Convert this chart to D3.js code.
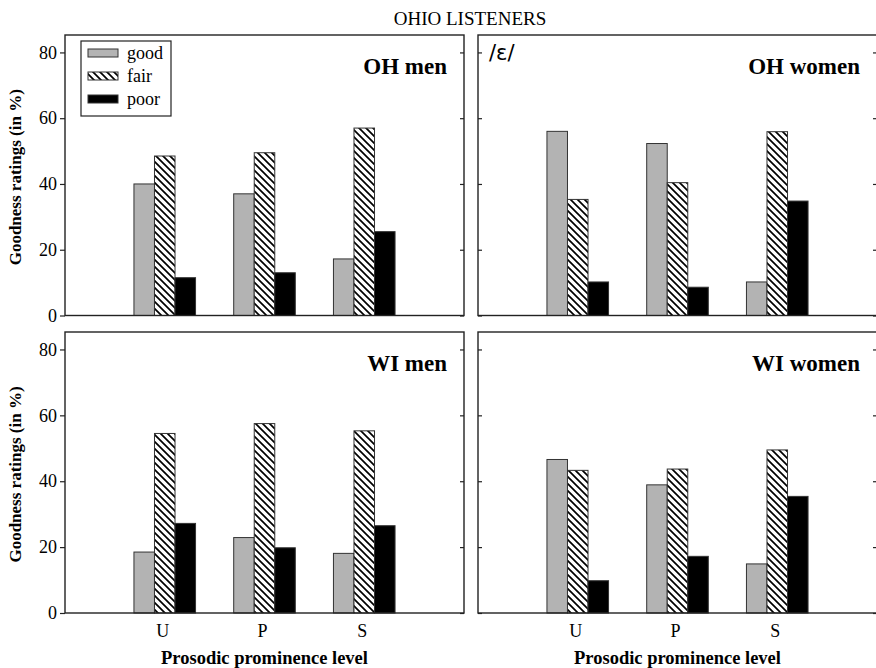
<!DOCTYPE html>
<html>
<head>
<meta charset="utf-8">
<script src="https://cdn.jsdelivr.net/npm/d3@7"></script>
<style>
  body { margin: 0; background: #fff; }
  svg text { font-family: "Liberation Serif", serif !important; }
  svg text.ipa { font-family: "DejaVu Sans", sans-serif !important; }
</style>
</head>
<body>
<div id="chart"></div>
<script>
// Goodness ratings by prosodic prominence level, Ohio listeners

var categories = ["U", "P", "S"];
var series = ["good", "fair", "poor"];
var yTicks = [0, 20, 40, 60, 80];

// values per category: [good, fair, poor]
var ohMen   = [[40, 48.5, 11.5], [37, 49.5, 13], [17.2, 57, 25.5]];
var ohWomen = [[56, 35.3, 10.2], [52.3, 40.4, 8.6], [10.2, 55.9, 34.8]];
var wiMen   = [[18.5, 54.5, 27.2], [22.9, 57.5, 19.8], [18.1, 55.3, 26.5]];
var wiWomen = [[46.6, 43.3, 9.8], [38.9, 43.7, 17.2], [14.9, 49.5, 35.4]];

var panelNames = ["OH men", "OH women", "WI men", "WI women"];
var panelValues = [ohMen, ohWomen, wiMen, wiWomen];

var width = 876;
var height = 668;

var colLeft = [65, 478];
var colWidth = 399;
var rowTop = [35, 332];
var rowBottom = [315.5, 613];

var svg = d3.select("#chart")
            .append("svg")
            .attr("width", width)
            .attr("height", height)
            .attr("font-family", "Liberation Serif");

// hatch pattern for "fair"
var defs = svg.append("defs");
var pat = defs.append("pattern")
              .attr("id", "hatch")
              .attr("patternUnits", "userSpaceOnUse")
              .attr("width", 7)
              .attr("height", 7);
pat.append("rect").attr("width", 7).attr("height", 7).attr("fill", "#fff");
pat.append("path")
   .attr("d", "M-1,-1 L8,8 M-4,3 L4,11 M3,-4 L11,4")
   .attr("stroke", "#000")
   .attr("stroke-width", 1.7);

var fills = { good: "#b3b3b3", fair: "url(#hatch)", poor: "#000" };

// title
svg.append("text")
   .attr("x", 470)
   .attr("y", 25)
   .attr("text-anchor", "middle")
   .style("font-size", "19px")
   .text("OHIO LISTENERS");

panelValues.forEach(function(vals, p) {
    var col = p % 2;
    var row = Math.floor(p / 2);
    var x0 = colLeft[col];
    var x1 = x0 + colWidth;
    var yTop = rowTop[row];
    var yBot = rowBottom[row];

    var x = d3.scaleLinear().domain([0, 4]).range([x0, x1]);
    var xs = d3.scaleBand().domain(series).range([-30.8, 30.8]);
    var y = d3.scaleLinear().domain([0, 85.3]).range([yBot, yTop]);

    var g = svg.append("g");

    // bars
    vals.forEach(function(v, i) {
        g.selectAll(null)
         .data(series)
         .enter()
         .append("rect")
         .attr("x", function(s) { return x(i + 1) + xs(s); })
         .attr("width", xs.bandwidth())
         .attr("y", function(s, j) { return y(v[j]); })
         .attr("height", function(s, j) { return y(0) - y(v[j]); })
         .attr("fill", function(s) { return fills[s]; })
         .attr("stroke", "#333")
         .attr("stroke-width", 1);
    });

    // frame
    g.append("rect")
     .attr("x", x0)
     .attr("y", yTop)
     .attr("width", colWidth)
     .attr("height", yBot - yTop)
     .attr("fill", "none")
     .attr("stroke", "#222")
     .attr("stroke-width", 1.4);

    // y ticks
    if (col === 0) {
        var axL = g.append("g")
                   .attr("transform", "translate(" + x0 + ",0)")
                   .call(d3.axisLeft(y).tickValues(yTicks).tickSize(5).tickPadding(3));
        axL.attr("font-family", "Liberation Serif");
        axL.selectAll("text").style("font-size", "18px").attr("fill", "#000");
    } else {
        g.append("g")
         .attr("transform", "translate(" + x0 + ",0)")
         .call(d3.axisRight(y).tickValues(yTicks).tickSize(4).tickFormat(""));
    }
    g.append("g")
     .attr("transform", "translate(" + x1 + ",0)")
     .call(d3.axisLeft(y).tickValues(yTicks).tickSize(4).tickFormat(""));
    g.selectAll(".domain").remove();
    g.selectAll(".tick line").attr("stroke", "#222").attr("stroke-width", 1.2);

    // panel label
    g.append("text")
     .attr("x", x1 - 17)
     .attr("y", yTop + 39)
     .attr("text-anchor", "end")
     .style("font-size", "23px")
     .style("font-weight", "bold")
     .text(panelNames[p]);

    // y label
    if (col === 0) {
        g.append("text")
         .attr("transform", "translate(21," + ((yTop + yBot) / 2 + 2) + ") rotate(-90)")
         .attr("text-anchor", "middle")
         .style("font-size", "17px")
         .style("font-weight", "bold")
         .text("Goodness ratings (in %)");
    }

    // x labels
    if (row === 1) {
        g.selectAll(null)
         .data(categories)
         .enter()
         .append("text")
         .attr("x", function(d, i) { return x(i + 1) - 2; })
         .attr("y", 637)
         .attr("text-anchor", "middle")
         .style("font-size", "18px")
         .text(function(d) { return d; });

        g.append("text")
         .attr("x", x(2))
         .attr("y", 664)
         .attr("text-anchor", "middle")
         .style("font-size", "18.5px")
         .style("font-weight", "bold")
         .text("Prosodic prominence level");
    }
});

// vowel label
svg.append("text")
   .attr("class", "ipa")
   .attr("x", 489)
   .attr("y", 60)
   .style("font-size", "21px")
   .text("/ɛ/");

// legend
var legend = svg.append("g");
legend.append("rect")
      .attr("x", 81).attr("y", 41)
      .attr("width", 90).attr("height", 75)
      .attr("fill", "#fff")
      .attr("stroke", "#222")
      .attr("stroke-width", 1.2);

series.forEach(function(s, i) {
    var cy = 53 + i * 23;
    legend.append("rect")
          .attr("x", 88).attr("y", cy - 4)
          .attr("width", 30).attr("height", 8)
          .attr("fill", fills[s])
          .attr("stroke", "#333");
    legend.append("text")
          .attr("x", 127).attr("y", cy + 6)
          .style("font-size", "18px")
          .text(s);
});
</script>
</body>
</html>
